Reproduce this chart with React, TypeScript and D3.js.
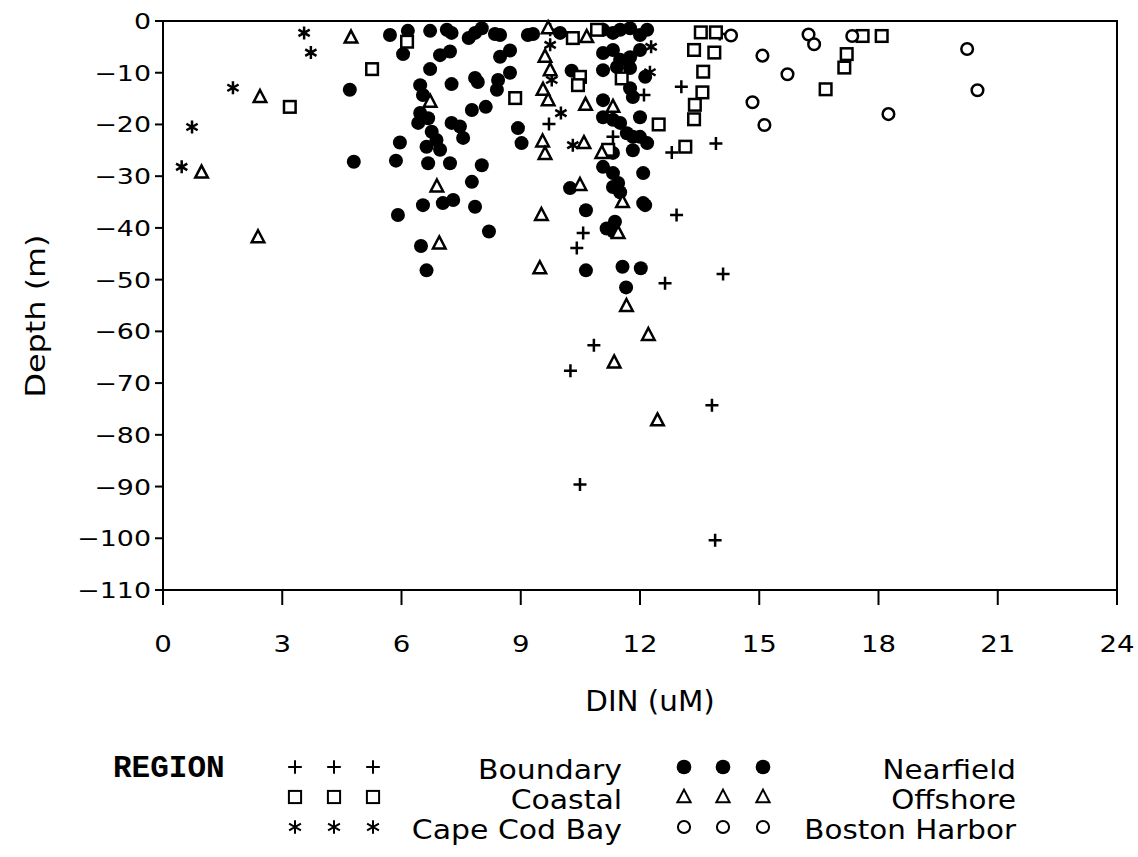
import React from "react";
import * as d3 from "d3";

// DIN (uM), Depth (m) pairs per region
const boundary: [number, number][] = [
  [9.74, -1.7], [9.71, -19.9], [12.92, -37.5], [13.04, -12.7], [13.91, -23.7], [12.8, -25.4],
  [14.01, -2.5], [10.57, -41.0], [10.41, -43.9], [12.63, -50.7], [14.09, -48.9], [10.84, -62.7],
  [10.25, -67.6], [13.81, -74.3], [10.49, -89.6], [13.89, -100.4], [12.1, -14.3], [11.32, -22.4],
];
const coastal: [number, number][] = [
  [6.14, -4.0], [5.26, -9.3], [3.19, -16.6], [8.86, -14.9], [10.31, -3.3], [10.92, -1.7],
  [10.49, -10.8], [10.44, -12.4], [11.54, -11.1], [13.53, -2.2], [13.91, -2.2], [13.36, -5.6],
  [13.87, -6.1], [13.59, -9.8], [13.57, -13.8], [13.38, -16.2], [13.36, -19.0], [12.47, -20.0],
  [13.14, -24.3], [17.6, -2.9], [18.08, -2.9], [17.2, -6.4], [17.14, -9.0], [16.67, -13.2],
  [11.2, -24.9],
];
const capeCodBay: [number, number][] = [
  [3.55, -2.3], [3.72, -6.1], [1.76, -12.9], [0.73, -20.5], [0.47, -28.2], [9.74, -4.6],
  [9.78, -11.4], [10.01, -17.8], [10.31, -24.0], [12.25, -9.9], [12.28, -5.0],
];
const nearfield: [number, number][] = [
  [5.71, -2.7], [6.16, -1.9], [6.04, -6.4], [4.7, -13.3], [5.96, -23.5], [4.8, -27.2], [5.86, -27.0],
  [5.91, -37.5], [6.72, -1.9], [7.14, -1.7], [7.26, -2.3], [7.69, -3.3], [7.85, -2.3], [8.02, -1.4],
  [8.35, -2.5], [8.48, -2.7], [9.18, -2.7], [9.31, -2.5], [6.97, -6.6], [7.22, -5.9], [6.72, -9.3],
  [7.26, -12.2], [7.85, -11.0], [7.92, -11.8], [8.48, -6.9], [8.73, -5.7], [8.73, -10.0], [8.43, -11.4],
  [8.4, -13.3], [10.28, -9.6], [6.47, -12.4], [6.54, -14.3], [7.77, -17.2], [8.12, -16.6], [6.47, -17.8],
  [6.67, -18.8], [6.42, -19.7], [7.26, -19.7], [7.47, -20.4], [7.55, -22.6], [6.76, -21.4], [6.88, -23.0],
  [6.97, -24.9], [6.63, -24.3], [8.93, -20.7], [9.02, -23.6], [6.67, -27.5], [7.22, -27.5], [8.02, -27.9],
  [7.77, -31.1], [6.54, -35.6], [7.04, -35.2], [7.3, -34.6], [7.85, -35.9], [10.24, -32.3], [8.2, -40.7],
  [6.49, -43.5], [6.63, -48.2], [10.64, -36.6], [11.16, -40.1], [11.37, -38.8], [11.33, -40.7],
  [10.64, -48.2], [11.56, -47.5], [12.02, -47.8], [11.65, -51.5], [12.13, -35.6], [9.99, -2.3],
  [11.07, -1.7], [11.32, -2.3], [11.5, -1.7], [11.75, -1.4], [12.0, -2.7], [12.18, -1.7],
  [11.07, -6.2], [11.32, -5.6], [11.5, -7.5], [11.75, -7.0], [12.0, -5.6], [11.07, -9.5], [11.42, -8.9],
  [11.75, -9.1], [12.13, -10.8], [11.75, -13.0], [11.82, -14.7], [11.07, -15.3], [12.0, -18.6],
  [11.07, -18.6], [11.32, -19.1], [11.5, -19.7], [11.67, -21.7], [11.82, -22.4], [12.0, -22.4],
  [12.18, -23.6], [11.32, -25.5], [11.82, -25.0], [11.07, -28.2], [11.32, -29.4], [11.45, -31.3],
  [11.32, -32.1], [11.5, -33.1], [12.08, -29.4], [12.08, -35.2],
];
const offshore: [number, number][] = [
  [4.73, -3.2], [2.44, -14.7], [0.97, -29.3], [2.39, -41.8], [9.69, -1.4], [10.66, -3.1], [9.61, -6.9],
  [9.74, -9.5], [9.56, -13.3], [9.69, -15.3], [6.72, -15.6], [10.63, -16.2], [9.55, -23.3], [9.61, -25.7],
  [10.59, -23.6], [6.89, -32.0], [10.49, -31.7], [6.95, -43.0], [9.52, -37.5], [9.48, -47.8],
  [11.45, -41.0], [11.56, -35.0], [11.66, -55.1], [12.21, -60.7], [11.35, -66.0], [12.44, -77.2],
  [11.04, -25.5], [11.32, -16.6],
];
const bostonHarbor: [number, number][] = [
  [14.29, -2.8], [15.08, -6.7], [15.71, -10.3], [14.83, -15.7], [15.13, -20.1], [16.24, -2.6],
  [16.38, -4.5], [17.34, -2.9], [18.25, -18.0], [20.23, -5.4], [20.49, -13.4],
];

const xTicks = [0, 3, 6, 9, 12, 15, 18, 21, 24];
const yTicks = [0, -10, -20, -30, -40, -50, -60, -70, -80, -90, -100, -110];

const FONT = "'DejaVu Sans', sans-serif";

type Kind = "plus" | "square" | "star" | "dot" | "tri" | "ring";

function SText({ x, y, size, anchor = "start", sx = 1.15, rot = 0, children }: {
  x: number; y: number; size: number; anchor?: string; sx?: number; rot?: number; children: React.ReactNode;
}) {
  return (
    <g transform={`translate(${x},${y}) rotate(${rot}) scale(${sx},1)`}>
      <text x={0} y={0} textAnchor={anchor as any} fontFamily={FONT} fontSize={size}>{children}</text>
    </g>
  );
}

function Marker({ kind, cx, cy, s = 1, sw = 2.5 }: { kind: Kind; cx: number; cy: number; s?: number; sw?: number }) {
  const t = `translate(${cx},${cy})`;
  switch (kind) {
    case "plus":
      return <path transform={t} d={`M${-6.5 * s},0H${6.5 * s}M0,${-6.5 * s}V${6.5 * s}`} stroke="#000" strokeWidth={sw} fill="none" />;
    case "square":
      return <rect transform={t} x={-5.8 * s} y={-5.8 * s} width={11.6 * s} height={11.6 * s} stroke="#000" strokeWidth={sw} fill="#fff" />;
    case "star": {
      const r = 6.5 * s;
      const a = Math.PI / 6;
      const d = `M0,${-r}V${r}M${-r * Math.cos(a)},${-r * Math.sin(a)}L${r * Math.cos(a)},${r * Math.sin(a)}M${-r * Math.cos(a)},${r * Math.sin(a)}L${r * Math.cos(a)},${-r * Math.sin(a)}`;
      return <path transform={t} d={d} stroke="#000" strokeWidth={sw} fill="none" />;
    }
    case "dot":
      return <circle cx={cx} cy={cy} r={7 * s} fill="#000" />;
    case "tri":
      return <path transform={t} d={`M0,${-7 * s}L${6.3 * s},${5 * s}L${-6.3 * s},${5 * s}Z`} stroke="#000" strokeWidth={sw} fill="#fff" />;
    case "ring":
      return <circle cx={cx} cy={cy} r={5.8 * s} stroke="#000" strokeWidth={sw} fill="#fff" />;
  }
}

export default function App() {
  const x = d3.scaleLinear().domain([0, 24]).range([163, 1117]);
  const y = d3.scaleLinear().domain([-110, 0]).range([590, 21]);

  const series: { kind: Kind; data: [number, number][] }[] = [
    { kind: "dot", data: nearfield },
    { kind: "plus", data: boundary },
    { kind: "square", data: coastal },
    { kind: "star", data: capeCodBay },
    { kind: "tri", data: offshore },
    { kind: "ring", data: bostonHarbor },
  ];

  const legendLeft = [
    { kind: "plus" as Kind, label: "Boundary" },
    { kind: "square" as Kind, label: "Coastal" },
    { kind: "star" as Kind, label: "Cape Cod Bay" },
  ];
  const legendRight = [
    { kind: "dot" as Kind, label: "Nearfield" },
    { kind: "tri" as Kind, label: "Offshore" },
    { kind: "ring" as Kind, label: "Boston Harbor" },
  ];
  const rowY = [767, 797, 827];

  return (
    <svg width={1138} height={857} style={{ position: "absolute", left: 0, top: 0, background: "#fff" }}>
      <rect x={0} y={0} width={1138} height={857} fill="#fff" />
      {/* frame */}
      <rect x={163} y={21} width={954} height={569} fill="none" stroke="#000" strokeWidth={2} />
      {/* x ticks */}
      {xTicks.map((v) => (
        <g key={"xt" + v}>
          <line x1={x(v)} x2={x(v)} y1={590} y2={605} stroke="#000" strokeWidth={2} />
          <SText x={x(v)} y={652} size={23} anchor="middle" sx={1.2}>{v}</SText>
        </g>
      ))}
      {/* y ticks */}
      {yTicks.map((v) => (
        <g key={"yt" + v}>
          <line x1={155} x2={163} y1={y(v)} y2={y(v)} stroke="#000" strokeWidth={2} />
          <SText x={151} y={y(v) + 8} size={22} anchor="end" sx={1.22}>
            {v < 0 ? "\u2212" + Math.abs(v) : v}
          </SText>
        </g>
      ))}
      <SText x={650} y={711} size={28} anchor="middle" sx={1.05}>DIN (uM)</SText>
      <SText x={45} y={316} size={27} anchor="middle" sx={1.18} rot={-90}>Depth (m)</SText>

      {/* points */}
      {series.map((s) =>
        s.data.map((d, i) => <Marker key={s.kind + i} kind={s.kind} cx={x(d[0])} cy={y(d[1])} />)
      )}

      {/* legend */}
      <text x={113} y={777} fontFamily="'Liberation Mono', monospace" fontWeight="bold" fontSize={31}>REGION</text>
      {legendLeft.map((l, i) => (
        <g key={"ll" + i}>
          {[295, 334, 373].map((cx) => (
            <Marker key={cx} kind={l.kind} cx={cx} cy={rowY[i]} s={1.05} sw={2} />
          ))}
          <SText x={622} y={rowY[i] + 12} size={26} anchor="end" sx={1.15}>{l.label}</SText>
        </g>
      ))}
      {legendRight.map((l, i) => (
        <g key={"lr" + i}>
          {[684, 723, 763].map((cx) => (
            <Marker key={cx} kind={l.kind} cx={cx} cy={rowY[i]} s={1.05} sw={2} />
          ))}
          <SText x={1016} y={rowY[i] + 12} size={26} anchor="end" sx={1.13}>{l.label}</SText>
        </g>
      ))}
    </svg>
  );
}
